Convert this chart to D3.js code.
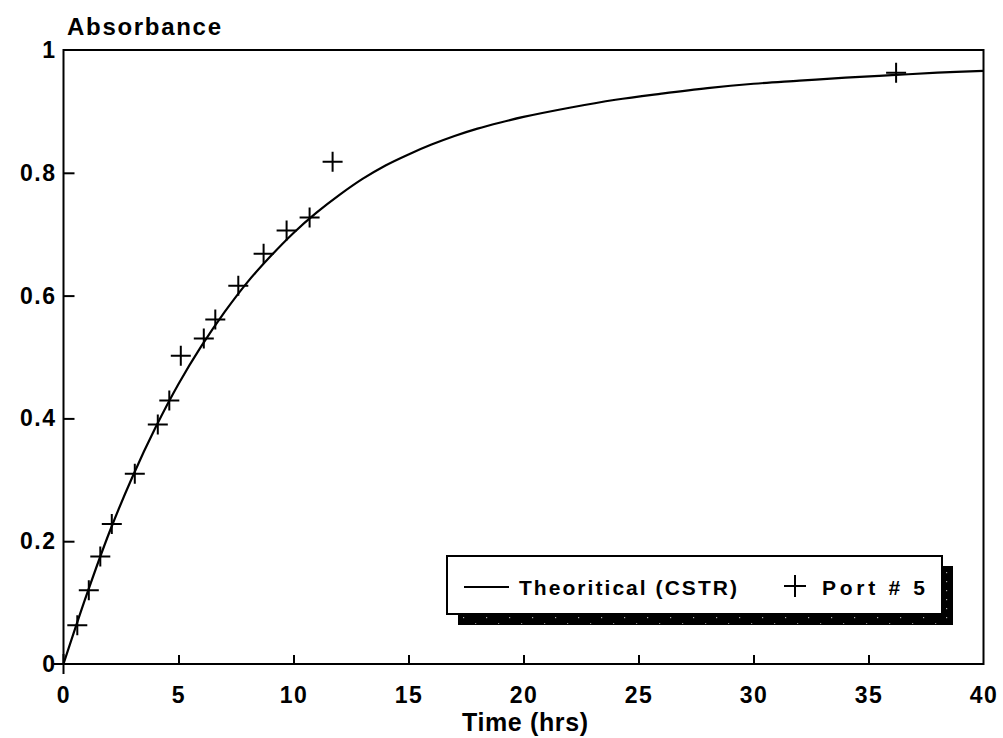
<!DOCTYPE html>
<html>
<head>
<meta charset="utf-8">
<script src="https://cdn.jsdelivr.net/npm/d3@7"></script>
<style>
  html, body { margin: 0; padding: 0; background: #fff; }
  svg { display: block; }
  text { font-family: "Liberation Sans", Arial, Helvetica, sans-serif; font-weight: bold; fill: #000; }
</style>
</head>
<body>
<svg id="chart" width="1003" height="738"></svg>
<script>
// Theoretical CSTR response curve (time in hrs, absorbance)
const curveTime = [0, 1, 2, 3, 4, 5, 6, 7, 8, 9, 10, 11, 12, 13, 14, 15, 16, 17, 18, 19, 20, 22, 24, 26, 28, 30, 32, 34, 36, 38, 40];
const curveAbs  = [0, 0.112, 0.215, 0.305, 0.385, 0.456, 0.518, 0.573, 0.622, 0.664, 0.702, 0.735, 0.764, 0.79, 0.812, 0.83, 0.846, 0.86, 0.872, 0.882, 0.891, 0.906, 0.919, 0.929, 0.938, 0.945, 0.95, 0.955, 0.959, 0.963, 0.966];

// Measured samples at Port # 5
const portTime = [0, 0.6, 1.1, 1.6, 2.1, 3.1, 4.1, 4.6, 5.1, 6.1, 6.6, 7.6, 8.7, 9.7, 10.7, 11.7, 36.2];
const portAbs  = [0, 0.063, 0.12, 0.175, 0.228, 0.31, 0.39, 0.429, 0.502, 0.53, 0.561, 0.616, 0.668, 0.706, 0.727, 0.818, 0.963];

// Axis ticks and labels
const xTicks = [0, 5, 10, 15, 20, 25, 30, 35, 40];
const yTicks = [0, 0.2, 0.4, 0.6, 0.8, 1];
const yTickLabels = ["0", "0.2", "0.4", "0.6", "0.8", "1"];
const xTitle = "Time (hrs)";
const yTitle = "Absorbance";
const legendLabels = ["Theoritical (CSTR)", "Port # 5"];

const svg = d3.select("#chart");
const plotL = 63.5, plotR = 983.5, plotT = 50, plotB = 664;

const x = d3.scaleLinear().domain([0, 40]).range([plotL, plotR]);
const y = d3.scaleLinear().domain([0, 1]).range([plotB, plotT]);

// Frame
svg.append("rect")
  .attr("x", plotL).attr("y", plotT)
  .attr("width", plotR - plotL).attr("height", plotB - plotT)
  .attr("fill", "none").attr("stroke", "#000").attr("stroke-width", 2);

// Y axis: inward ticks
const yAxis = svg.append("g")
  .attr("transform", `translate(${plotL},0)`)
  .call(d3.axisLeft(y).tickValues(yTicks)
    .tickFormat((d, i) => yTickLabels[i])
    .tickSizeInner(-11).tickSizeOuter(0).tickPadding(7));
yAxis.select(".domain").remove();
yAxis.selectAll(".tick line")
  .attr("stroke", "#000").attr("stroke-width", 2)
  .attr("display", d => (d === 0 || d === 1) ? "none" : null);
yAxis.selectAll(".tick text")
  .attr("font-size", 23).attr("font-family", null).attr("letter-spacing", 1.5)
  .attr("dy", "0.33em");

// X axis: inward ticks
const xAxis = svg.append("g")
  .attr("transform", `translate(0,${plotB})`)
  .call(d3.axisBottom(x).tickValues(xTicks)
    .tickFormat(d3.format("d"))
    .tickSizeInner(-9).tickSizeOuter(0).tickPadding(23));
xAxis.select(".domain").remove();
xAxis.selectAll(".tick line")
  .attr("stroke", "#000").attr("stroke-width", 2)
  .attr("display", d => (d === 0 || d === 40) ? "none" : null);
xAxis.selectAll(".tick text")
  .attr("font-size", 23).attr("font-family", null).attr("letter-spacing", 1.5);

// Axis titles
svg.append("text").attr("x", 67).attr("y", 35)
  .attr("font-size", 24).attr("textLength", 154).attr("lengthAdjust", "spacing")
  .text(yTitle);
svg.append("text").attr("x", 462).attr("y", 731)
  .attr("font-size", 25).attr("textLength", 126).attr("lengthAdjust", "spacing")
  .text(xTitle);

// Theoretical curve
const curveData = curveTime.map((t, i) => ({ t, a: curveAbs[i] }));
svg.append("path")
  .datum(curveData)
  .attr("fill", "none").attr("stroke", "#000").attr("stroke-width", 2.2)
  .attr("d", d3.line().x(d => x(d.t)).y(d => y(d.a)).curve(d3.curveCatmullRom));

// Port # 5 markers (plus signs)
function plus(g, cx, cy, r) {
  g.append("path")
    .attr("d", `M${cx - r},${cy}H${cx + r}M${cx},${cy - r}V${cy + r}`)
    .attr("stroke", "#000").attr("stroke-width", 2).attr("fill", "none");
}
const marks = svg.append("g");
portTime.forEach((t, i) => plus(marks, x(t), y(portAbs[i]), 10));

// Legend with offset shadow
const defs = svg.append("defs");
const pat = defs.append("pattern").attr("id", "speckle")
  .attr("width", 23).attr("height", 9).attr("patternUnits", "userSpaceOnUse");
pat.append("rect").attr("width", 23).attr("height", 9).attr("fill", "#000");
pat.append("rect").attr("x", 3).attr("y", 5).attr("width", 1.2).attr("height", 1.2).attr("fill", "#aaa");
pat.append("rect").attr("x", 15).attr("y", 2).attr("width", 1.2).attr("height", 1).attr("fill", "#888");

const lg = svg.append("g");
const bx = 447, by = 556, bw = 495, bh = 58, sh = 10;
lg.append("rect").attr("x", bx + sh + 1).attr("y", by + sh).attr("width", bw).attr("height", bh + 1)
  .attr("fill", "url(#speckle)");
lg.append("rect").attr("x", bx).attr("y", by).attr("width", bw).attr("height", bh)
  .attr("fill", "#fff").attr("stroke", "#000").attr("stroke-width", 2);

lg.append("line").attr("x1", 464).attr("x2", 509).attr("y1", 587).attr("y2", 587)
  .attr("stroke", "#000").attr("stroke-width", 2.2);
lg.append("text").attr("x", 519).attr("y", 595)
  .attr("font-size", 21).attr("textLength", 218).attr("lengthAdjust", "spacing")
  .text(legendLabels[0]);
plus(lg, 795, 586, 11);
lg.append("text").attr("x", 822).attr("y", 595)
  .attr("font-size", 21).attr("textLength", 103).attr("lengthAdjust", "spacing")
  .text(legendLabels[1]);
</script>
</body>
</html>
